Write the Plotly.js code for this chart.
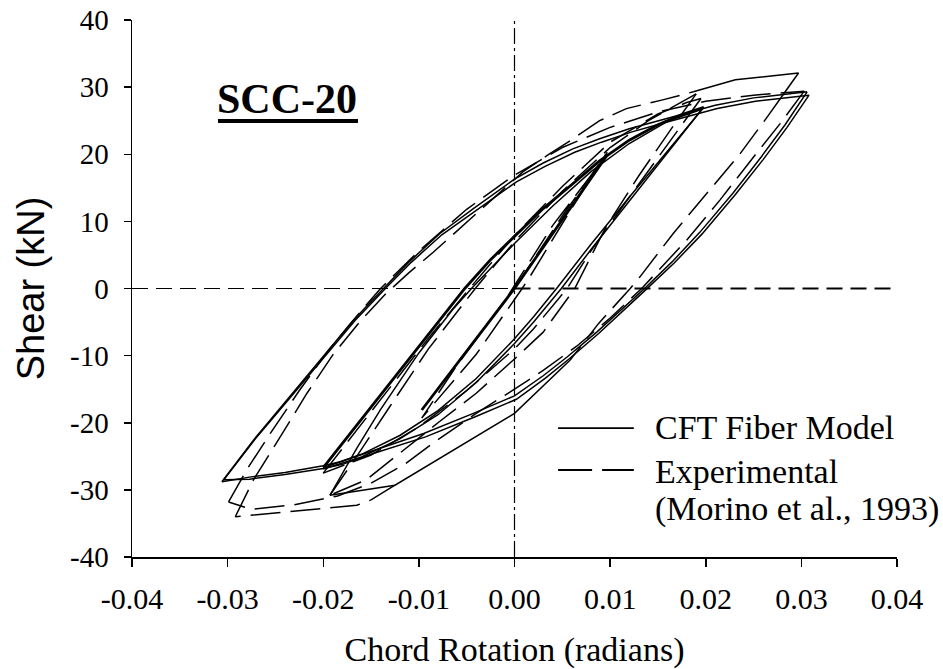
<!DOCTYPE html>
<html>
<head>
<meta charset="utf-8">
<script src="https://cdn.plot.ly/plotly-3.0.1.min.js"></script>
<style>html,body{margin:0;padding:0;background:#fff;}#chart{width:943px;height:669px;}</style>
</head>
<body>
<div id="chart"></div>
<script>
// ---------- tick labels ----------
const xTickVals = [-0.04, -0.03, -0.02, -0.01, 0.00, 0.01, 0.02, 0.03, 0.04];
const xTickText = ['-0.04', '-0.03', '-0.02', '-0.01', '0.00', '0.01', '0.02', '0.03', '0.04'];
const yTickVals = [-40, -30, -20, -10, 0, 10, 20, 30, 40];
const yTickText = ['-40', '-30', '-20', '-10', '0', '10', '20', '30', '40'];

// ---------- CFT Fiber Model (solid) : [rotation, shear] ----------
const modelElastic = [[-0.0097,-18.1],[0,0],[0.0097,19.9]];
const modelUp20a = [[-0.0200,-26.7],[-0.0170,-21.3],[-0.0130,-14.1],[-0.0090,-6.9],[-0.0052,0],[-0.0025,4.3],[0,7.8],[0.0030,11.9],[0.0061,15.6],[0.0089,19.0],[0.0120,22.1],[0.0150,24.4],[0.0175,25.9],[0.0198,27.0]];
const modelUp20b = [[-0.0193,-30.8],[-0.0165,-23.8],[-0.0140,-18.0],[-0.0100,-9.6],[-0.0065,-3.2],[-0.0045,0],[0,6.7],[0.0040,12.3],[0.0080,17.4],[0.0120,21.6],[0.0160,24.9],[0.0196,26.7]];
const modelLo20a = [[0.0198,27.0],[0.0160,20.5],[0.0120,13.6],[0.0080,6.6],[0.0044,0],[0.0020,-4.2],[0,-7.5],[-0.0040,-13.4],[-0.0080,-18.2],[-0.0120,-21.9],[-0.0160,-24.7],[-0.0200,-26.7]];
const modelLo20b = [[0.0196,26.7],[0.0160,20.2],[0.0120,13.0],[0.0080,5.8],[0.0049,0],[0.0020,-5.0],[0,-8.2],[-0.0040,-14.0],[-0.0080,-18.8],[-0.0120,-22.4],[-0.0160,-25.1],[-0.0200,-26.9]];
const modelUp30a = [[-0.0306,-28.8],[-0.0273,-22.6],[-0.0238,-16.6],[-0.0203,-10.7],[-0.0169,-4.8],[-0.0137,0],[-0.0110,4.0],[-0.0078,8.2],[-0.0043,11.9],[0,16.3],[0.0030,18.7],[0.0061,20.8],[0.0089,22.3],[0.0120,23.8],[0.0150,25.0],[0.0180,26.2],[0.0210,27.3],[0.0250,28.4],[0.0306,29.3]];
const modelUp30b = [[-0.0304,-28.5],[-0.0271,-22.4],[-0.0236,-16.5],[-0.0201,-10.6],[-0.0167,-4.8],[-0.0135,0],[-0.0108,3.9],[-0.0076,8.0],[-0.0041,11.6],[0.0002,15.9],[0.0032,18.2],[0.0063,20.3],[0.0091,21.8],[0.0122,23.3],[0.0152,24.5],[0.0182,25.7],[0.0212,26.8],[0.0252,27.9],[0.0308,28.8]];
const modelLo30a = [[0.0306,29.3],[0.0283,24.4],[0.0258,19.6],[0.0229,14.3],[0.0194,8.4],[0.0165,4.0],[0.0136,0],[0.0110,-3.4],[0.0086,-6.5],[0.0055,-10.2],[0.0030,-13.0],[0,-16.0],[-0.0043,-18.6],[-0.0095,-21.6],[-0.0148,-24.1],[-0.0182,-25.8],[-0.0200,-26.4],[-0.0240,-27.4],[-0.0277,-28.1],[-0.0306,-28.8]];
const modelLo30b = [[0.0308,28.8],[0.0285,24.0],[0.0260,19.2],[0.0231,14.0],[0.0196,8.1],[0.0167,3.8],[0.0138,-0.1],[0.0112,-3.5],[0.0088,-6.7],[0.0057,-10.5],[0.0032,-13.4],[0.0002,-16.5],[-0.0041,-19.1],[-0.0093,-22.1],[-0.0146,-24.5],[-0.0180,-26.2],[-0.0200,-26.8],[-0.0240,-27.7],[-0.0277,-28.4],[-0.0304,-28.5]];

// ---------- Experimental (Morino et al., 1993) ----------
const expPeakTop = [[0.0187,29.3],[0.0231,31.1],[0.0297,32.1],[0.0279,28.5]];
const expKink = [[0.0058,-10.7],[0,-18.6],[-0.0125,-29.3],[-0.0193,-30.8]];
const expUp30a = [[-0.0292,-34.0],[-0.0273,-28.5],[-0.0245,-22.1],[-0.0217,-15.6],[-0.0190,-9.9],[-0.0162,-5.0],[-0.0134,-0.7],[-0.0110,2.4],[-0.0085,5.4],[-0.0036,11.6],[0.0009,17.4],[0.0035,19.9],[0.0058,22.0],[0.0089,25.0],[0.0117,26.8],[0.0155,28.1],[0.0187,29.3]];
const expBottom = [[-0.0125,-29.3],[-0.0150,-31.5],[-0.0165,-32.3],[-0.0292,-34.0]];
const expLo30a = [[0.0279,28.5],[0.0264,25.5],[0.0236,20.1],[0.0208,15.4],[0.0166,8.2],[0.0131,1.7],[0.0121,0],[0.0088,-5.2],[0.0058,-10.7]];
const expUp30b = [[-0.0299,-31.8],[-0.0280,-27.0],[-0.0255,-21.5],[-0.0225,-15.2],[-0.0195,-9.3],[-0.0162,-3.6],[-0.0140,0],[-0.0100,5.6],[-0.0050,11.8],[0,16.9],[0.0050,21.0],[0.0100,24.0],[0.0150,26.3],[0.0200,27.9],[0.0250,28.8],[0.0303,29.4]];
const expLo30b = [[0.0303,29.4],[0.0278,24.6],[0.0250,19.6],[0.0215,13.2],[0.0180,7.2],[0.0145,1.8],[0.0133,0],[0.0100,-4.4],[0.0065,-8.6],[0.0030,-12.2],[0,-15.0],[-0.0040,-18.6],[-0.0080,-22.5],[-0.0115,-26.2],[-0.0150,-29.0],[-0.0185,-30.9],[-0.0230,-32.2],[-0.0275,-32.9],[-0.0299,-31.8]];
const expUp20a = [[-0.0193,-30.8],[-0.0165,-25.0],[-0.0130,-17.5],[-0.0090,-9.0],[-0.0041,0],[0,7.0],[0.0050,14.5],[0.0100,21.0],[0.0140,25.0],[0.0170,27.4],[0.0190,29.0]];
const expLo20a = [[0.0190,29.0],[0.0165,24.0],[0.0130,16.8],[0.0095,9.0],[0.0063,0],[0.0030,-6.5],[0,-10.5],[-0.0040,-15.6],[-0.0080,-20.0],[-0.0120,-24.6],[-0.0155,-28.5],[-0.0193,-30.8]];
const expUp20b = [[-0.0200,-27.5],[-0.0170,-22.0],[-0.0130,-14.6],[-0.0090,-7.4],[-0.0047,0],[0,7.9],[0.0050,15.2],[0.0100,21.8],[0.0150,26.0],[0.0180,27.7],[0.0195,28.3]];
const expLo20b = [[0.0195,28.3],[0.0160,21.5],[0.0120,13.6],[0.0080,5.6],[0.0055,0],[0.0020,-6.0],[0,-9.0],[-0.0050,-15.2],[-0.0100,-20.6],[-0.0150,-24.8],[-0.0200,-27.5]];
const exp01 = [[0,0],[0.0050,10.8],[0.0097,20.3],[0.0060,12.0],[0.0015,1.5],[0.0008,0],[-0.0040,-9.8],[-0.0097,-19.3],[-0.0060,-11.4],[-0.0010,-1.8],[0.0040,9.4],[0.0097,20.0]];

// ---------- build traces ----------
function joinSegments(list){
  const x = [], y = [];
  list.forEach((seg, i) => {
    if (i > 0) { x.push(null); y.push(null); }
    seg.forEach(p => { x.push(p[0]); y.push(p[1]); });
  });
  return {x, y};
}
const modelThin = joinSegments([modelUp20b, modelLo20a, modelLo20b, modelUp30a, modelUp30b, modelLo30a, modelLo30b]);
const modelThick = joinSegments([modelElastic, modelUp20a]);
const expDashed = joinSegments([expUp30a, expBottom, expLo30a, expUp30b, expLo30b, expUp20a, expLo20a, expUp20b, expLo20b, exp01]);
const expSolid = joinSegments([expPeakTop, expKink]);

const traces = [
  {type:'scatter', mode:'lines', name:'Experimental (Morino et al., 1993)', x:expDashed.x, y:expDashed.y, connectgaps:false,
   line:{color:'#000', width:1.5, dash:'30px,10px'}, showlegend:false, hoverinfo:'skip'},
  {type:'scatter', mode:'lines', name:'Experimental peaks', x:expSolid.x, y:expSolid.y, connectgaps:false,
   line:{color:'#000', width:1.5}, showlegend:false, hoverinfo:'skip'},
  {type:'scatter', mode:'lines', name:'CFT Fiber Model', x:modelThin.x, y:modelThin.y, connectgaps:false,
   line:{color:'#000', width:1.5}, showlegend:false, hoverinfo:'skip'},
  {type:'scatter', mode:'lines', name:'CFT Fiber Model (repeated cycles)', x:modelThick.x, y:modelThick.y, connectgaps:false,
   line:{color:'#000', width:2.8}, showlegend:false, hoverinfo:'skip'}
];

const serif = 'Liberation Serif, Times New Roman, serif';
const sans = 'Liberation Sans, Arial, sans-serif';

const layout = {
  width: 943, height: 669,
  margin: {l:132, r:46, t:20, b:112},
  paper_bgcolor:'#fff', plot_bgcolor:'#fff',
  showlegend:false,
  xaxis: {
    range:[-0.04, 0.04], tickmode:'array', tickvals:xTickVals, ticktext:xTickText,
    showgrid:false, zeroline:false, showline:true, linecolor:'#000', linewidth:1.5,
    ticks:'outside', ticklen:8, tickwidth:1.5, tickcolor:'#000', ticklabelstandoff:6,
    tickfont:{family:serif, size:30, color:'#000'},
    title:{text:'Chord Rotation (radians)', font:{family:serif, size:34, color:'#000'}, standoff:30},
    automargin:false
  },
  yaxis: {
    range:[-40, 40], tickmode:'array', tickvals:yTickVals, ticktext:yTickText,
    showgrid:false, zeroline:false, showline:true, linecolor:'#000', linewidth:1.5,
    ticks:'outside', ticklen:7, tickwidth:1.5, tickcolor:'#000', ticklabelstandoff:9,
    tickfont:{family:serif, size:29, color:'#000'},
    title:{text:'Shear (kN)', font:{family:sans, size:38, color:'#000'}, standoff:13},
    automargin:false
  },
  shapes: [
    {type:'line', layer:'below', xref:'paper', yref:'y', x0:0, x1:0.5, y0:0, y1:0, line:{color:'#000', width:1.2, dash:'16px,8px'}},
    {type:'line', layer:'below', xref:'paper', yref:'y', x0:0.5, x1:1, y0:0, y1:0, line:{color:'#000', width:2.2, dash:'16px,8px'}},
    {type:'line', layer:'below', xref:'x', yref:'paper', x0:0, x1:0, y0:0, y1:1, line:{color:'#000', width:1.2, dash:'16px,4px,3px,4px'}},
    // legend samples
    {type:'line', xref:'paper', yref:'paper', x0:0.557, x1:0.656, y0:0.240, y1:0.240, line:{color:'#000', width:1.8}},
    {type:'line', xref:'paper', yref:'paper', x0:0.557, x1:0.656, y0:0.162, y1:0.162, line:{color:'#000', width:1.8, dash:'34px,10px'}},
    // underline of panel label
    {type:'line', xref:'paper', yref:'paper', x0:0.1124, x1:0.2954, y0:0.812, y1:0.812, line:{color:'#000', width:4}}
  ],
  annotations: [
    {xref:'paper', yref:'paper', x:0.203, y:0.852, xanchor:'center', yanchor:'middle', showarrow:false,
     text:'<b>SCC-20</b>', font:{family:serif, size:42, color:'#000'}},
    {xref:'paper', yref:'paper', x:0.681, y:0.242, xanchor:'left', yanchor:'middle', showarrow:false,
     text:'CFT Fiber Model', font:{family:serif, size:34, color:'#000'}},
    {xref:'paper', yref:'paper', x:0.681, y:0.160, xanchor:'left', yanchor:'middle', showarrow:false,
     text:'Experimental', font:{family:serif, size:34, color:'#000'}},
    {xref:'paper', yref:'paper', x:0.681, y:0.0885, xanchor:'left', yanchor:'middle', showarrow:false,
     text:'(Morino et al., 1993)', font:{family:serif, size:34, color:'#000'}}
  ]
};

Plotly.newPlot('chart', traces, layout, {displayModeBar:false, staticPlot:true});
</script>
</body>
</html>
